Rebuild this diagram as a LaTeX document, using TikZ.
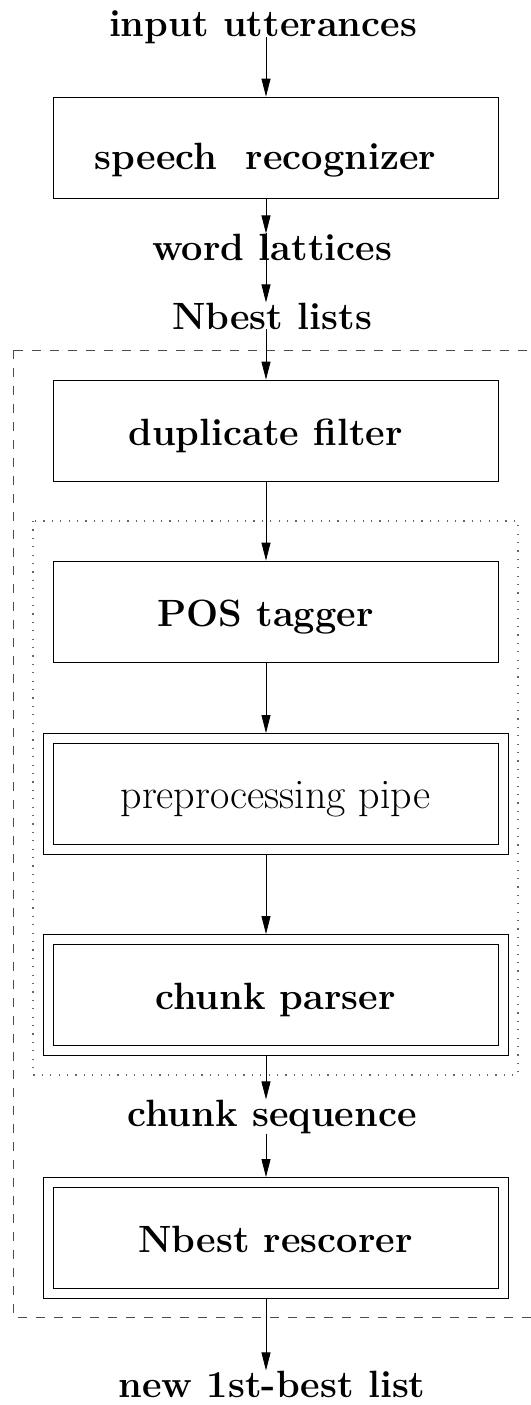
\documentclass[tikz,border=0pt]{standalone}
\usetikzlibrary{arrows.meta}

\tikzstyle{stage}=[draw, line width=0.8pt, minimum width=445pt, minimum height=101pt, inner sep=0pt, text height=29pt, text depth=0pt, font=\bfseries\fontsize{38}{44}\selectfont]
\tikzstyle{single}=[stage, execute at begin node={\kern-20pt}]
\tikzstyle{wrapped}=[stage, outer sep=10pt]
\tikzstyle{data}=[anchor=base, inner sep=0pt, font=\bfseries\fontsize{38}{44}\selectfont]
\tikzstyle{flow}=[line width=0.8pt, -{Triangle[length=18pt,width=9pt]}]

\begin{document}
\begin{tikzpicture}[x=1pt,y=1pt]
            \useasboundingbox (0,0) rectangle (530,-1405);
            \coordinate (col) at (266,0);
            % grouping frames
            \draw[line width=0.8pt, black!70, dash pattern=on 9pt off 9pt] (13,-350) rectangle (545,-1317);
            \draw[line width=1.2pt, black!60, dash pattern=on 1.2pt off 7.2pt] (33,-521) rectangle (518,-1075);
            \node[data] at (263,-37) (input) {input utterances};
            \node[single, text height=44pt] at (275.5,-147.5) (speech) {speech~~recognizer};
            \node[data] at (272,-260) (word) {word lattices};
            \node[data] at (272,-329) (nbest) {Nbest lists};
            \node[single] at (275.5,-430.5) (dup) {duplicate filter};
            \node[single] at (275.5,-611.5) (pos) {POS tagger};
            \node[wrapped, font=\fontsize{42}{48}\selectfont] at (275.5,-793.5) (pipe) {preprocessing pipe};
            \node[wrapped] at (275.5,-994.5) (chunk) {chunk parser};
            \node[data] at (272,-1126) (seq) {chunk sequence};
            \node[wrapped] at (275.5,-1237.5) (resc) {Nbest rescorer};
            \node[data] at (272,-1397) (out) {new 1st-best list};
            % outer frames of the double boxes
            \foreach \n in {pipe,chunk,resc}
                \draw[line width=0.8pt] (\n.north west) rectangle (\n.south east);
            \draw[flow] (input.base -| col) -- (speech.north -| col);
            \draw[flow] (speech.south -| col) -- (word.north -| col);
            \draw[flow] (word.north -| col) -- (nbest.north -| col);
            \draw[flow] (nbest.base -| col) -- (dup.north -| col);
            \draw[flow] (dup.south -| col) -- (pos.north -| col);
            \draw[flow] (pos.south -| col) -- (pipe.north -| col);
            \draw[flow] (pipe.south -| col) -- (chunk.north -| col);
            \draw[flow] (chunk.south -| col) -- (seq.north -| col);
            \draw[flow] (seq.south -| col) -- (resc.north -| col);
            \draw[flow] (resc.south -| col) -- (out.north -| col);
        \end{tikzpicture}
\end{document}
